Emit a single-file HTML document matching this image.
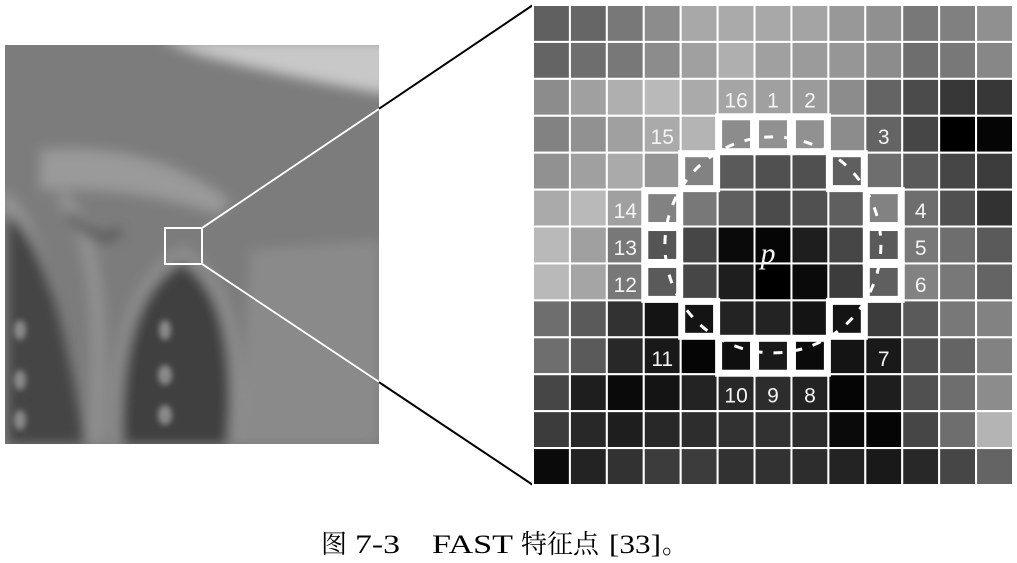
<!DOCTYPE html>
<html><head><meta charset="utf-8"><style>
html,body{margin:0;padding:0;background:#fff;width:1017px;height:563px;overflow:hidden}
svg{display:block}
</style></head><body>
<svg id="fig" width="1017" height="563" xmlns="http://www.w3.org/2000/svg">
<defs>
<filter id="bl" x="-10%" y="-10%" width="120%" height="120%"><feGaussianBlur stdDeviation="6"/></filter>
<filter id="bl2"><feGaussianBlur stdDeviation="3"/></filter>
<clipPath id="pc"><rect x="5" y="45" width="374" height="399"/></clipPath>
</defs>
<g clip-path="url(#pc)">
<rect x="5" y="45" width="374" height="399" fill="#7c7c7c"/>
<g filter="url(#bl)">
<path d="M160 40 L390 40 L390 95 Q300 80 200 55 Z" fill="#c8c8c8"/>
<path d="M40 150 Q150 140 230 200 L220 215 Q130 185 40 190 Z" fill="#9a9a9a"/>
<path d="M250 250 L379 240 L379 444 L240 444 Z" fill="#8a8a8a"/>
<path d="M0 190 Q45 195 80 444 L0 444 Z" fill="#929292"/>
<path d="M5 215 Q50 230 85 444 L5 444 Z" fill="#444"/>
<path d="M182 245 Q255 290 240 444 L110 444 Q105 290 182 245 Z" fill="#8e8e8e"/>
<path d="M182 262 Q240 300 228 444 L122 444 Q118 300 182 262 Z" fill="#414141"/>
<path d="M60 195 Q110 240 95 444" stroke="#929292" stroke-width="14" fill="none"/>
<path d="M120 230 Q100 250 70 215" stroke="#555" stroke-width="8" fill="none"/>
</g>
<g filter="url(#bl2)" fill="#8a8a8a">
<ellipse cx="20" cy="330" rx="6" ry="10"/><ellipse cx="20" cy="380" rx="6" ry="10"/><ellipse cx="20" cy="420" rx="6" ry="10"/>
<ellipse cx="165" cy="330" rx="6" ry="10"/><ellipse cx="165" cy="375" rx="7" ry="10"/><ellipse cx="165" cy="415" rx="7" ry="10"/>
</g>
<rect x="165" y="228" width="37" height="36" fill="none" stroke="#fff" stroke-width="2"/>
</g>
<g>
<line x1="202" y1="228" x2="533" y2="5" stroke="#000" stroke-width="2"/>
<line x1="202" y1="264" x2="533" y2="485" stroke="#000" stroke-width="2"/>
<line x1="202" y1="228" x2="379" y2="108.8" stroke="#fff" stroke-width="2"/>
<line x1="202" y1="264" x2="379" y2="382" stroke="#fff" stroke-width="2"/>
</g>
<g id="grid"></g>
<g id="ring"></g>
<circle cx="772.9" cy="244.9" r="108" fill="none" stroke="#fff" stroke-width="3" stroke-dasharray="9 11"/>
<g id="labels" font-family="Liberation Sans, sans-serif" font-size="21" fill="#f4f4f4" text-anchor="middle"></g>
<text x="768" y="263" font-family="Liberation Serif, serif" font-style="italic" font-size="30" fill="#f4f4f4" text-anchor="middle">p</text>
<g font-family="Liberation Serif, 'Noto Serif CJK SC', serif" font-size="26" fill="#000">
<text x="321" y="553">图</text>
<text x="355" y="553" textLength="45" lengthAdjust="spacingAndGlyphs">7-3</text>
<text x="432" y="553" textLength="81" lengthAdjust="spacingAndGlyphs">FAST</text>
<text x="521" y="553">特征点</text>
<text x="609" y="553" textLength="52" lengthAdjust="spacingAndGlyphs">[33]</text>
<text x="662" y="553">。</text>
</g>
</svg>
<script>
const grayRows = [
[96,102,120,140,168,170,168,164,152,144,120,128,144],
[100,110,120,140,160,175,160,155,150,140,110,120,135],
[140,160,175,185,170,165,160,155,140,100,75,55,55],
[130,145,160,170,180,140,145,145,140,100,70,0,5],
[145,160,170,150,130,90,80,80,95,110,90,70,60],
[170,185,160,130,120,95,75,80,95,130,110,80,50],
[185,160,120,85,70,10,5,30,70,90,120,110,90],
[185,165,120,90,70,30,0,10,60,95,130,120,100],
[110,90,50,20,20,35,35,20,20,60,90,120,130],
[110,90,40,25,5,15,25,10,20,25,80,100,130],
[70,30,10,20,35,40,45,35,5,30,80,110,140],
[60,40,30,40,45,50,50,45,10,5,70,110,180],
[10,35,50,60,60,50,50,45,35,25,40,70,100]
];
const ringLabels = ["1","2","3","4","5","6","7","8","9","10","11","12","13","14","15","16"];
const ringRows = [3,3,4,5,6,7,8,9,9,9,8,7,6,5,4,3];
const ringCols = [6,7,8,9,9,9,8,7,6,5,4,3,3,3,4,5];
const NS="http://www.w3.org/2000/svg";
const x0=533,y0=5,cs=480/13;
const gx=c=>x0+c*cs, gy=r=>y0+r*cs;
const grid=document.getElementById('grid');
grayRows.forEach((row,r)=>row.forEach((v,c)=>{
  const el=document.createElementNS(NS,'rect');
  el.setAttribute('x',gx(c));el.setAttribute('y',gy(r));
  el.setAttribute('width',cs);el.setAttribute('height',cs);
  el.setAttribute('fill',`rgb(${v},${v},${v})`);
  el.setAttribute('stroke','#fff');el.setAttribute('stroke-width','2');
  
  
  grid.appendChild(el);
}));
const ring=document.getElementById('ring');
const labels=document.getElementById('labels');
ringLabels.forEach((t,i)=>{
  const r=ringRows[i],c=ringCols[i];
  const el=document.createElementNS(NS,'rect');
  el.setAttribute('x',gx(c)+1);el.setAttribute('y',gy(r)+1);
  el.setAttribute('width',cs-2);el.setAttribute('height',cs-2);
  el.setAttribute('fill','none');el.setAttribute('stroke','#fff');el.setAttribute('stroke-width','7');
  
  
  ring.appendChild(el);
  const dc=c-6, dr=r-6;
  const sc=Math.abs(dc)>=2?Math.sign(dc):0;
  const sr=Math.abs(dr)>=2?Math.sign(dr):0;
  let lc=c+sc, lr=r+sr;
  if(Math.abs(dc)===2&&Math.abs(dr)===2){lc=c+Math.sign(dc);lr=r+Math.sign(dr);}
  const tx=document.createElementNS(NS,'text');
  tx.setAttribute('x',gx(lc+0.5));tx.setAttribute('y',gy(lr+0.5)+10);
  tx.textContent=t;
  
  
  labels.appendChild(tx);
});
</script>
</body></html>
